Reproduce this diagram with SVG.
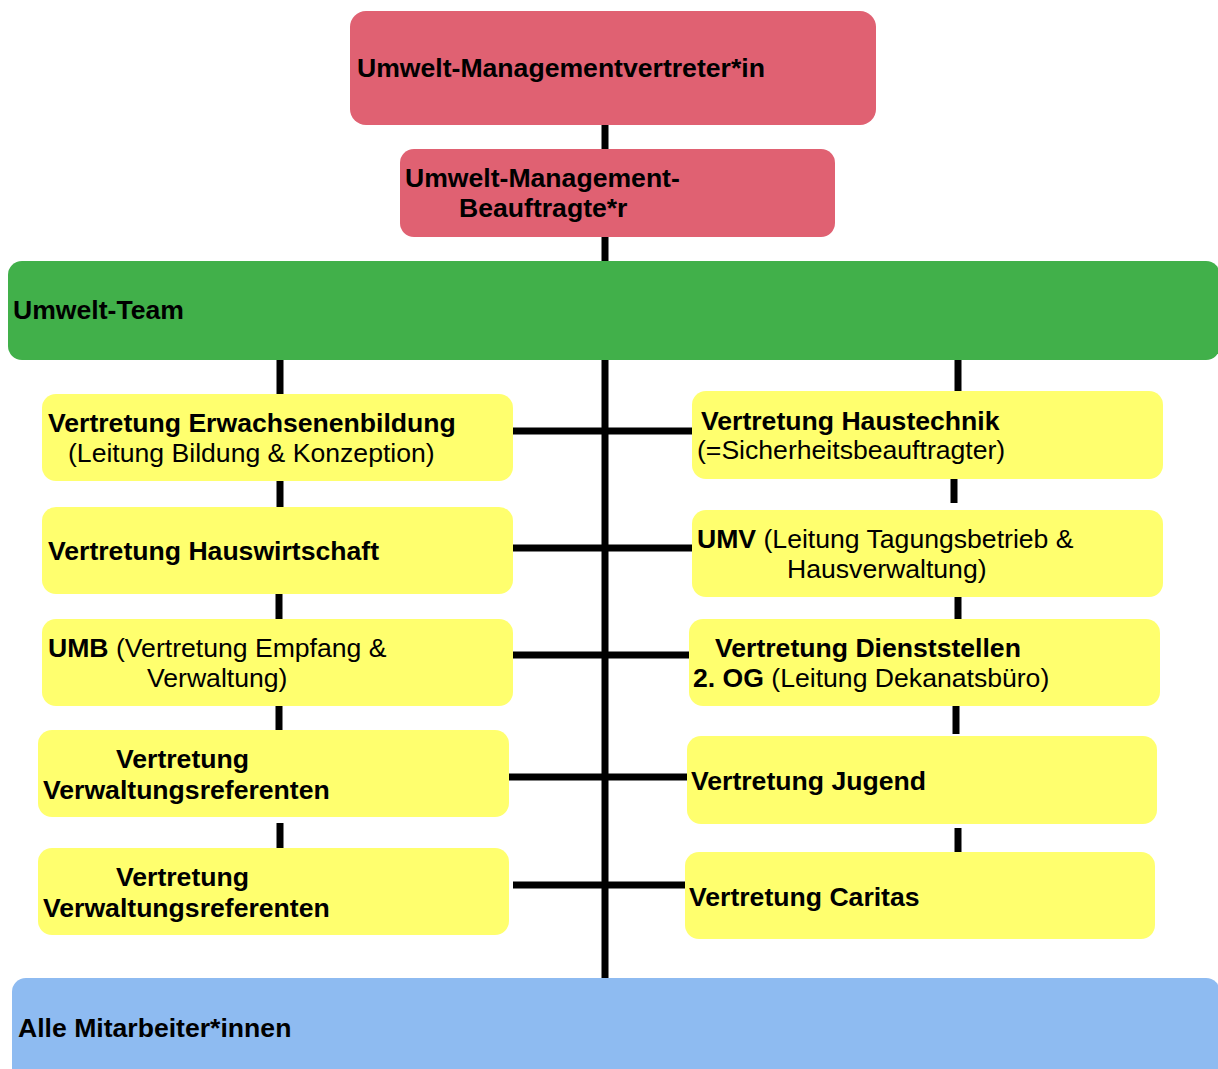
<svg xmlns="http://www.w3.org/2000/svg" width="1218" height="1069" viewBox="0 0 1218 1069">
<style>
.t{font-family:"Liberation Sans",Arial,sans-serif;font-size:26.6px;fill:#000}
.b{font-weight:bold}
.red{fill:#e06172}
.yel{fill:#ffff6e}
.ln{stroke:#000;stroke-width:7;fill:none}
</style>
<rect width="1218" height="1069" fill="#fff"/>
<g id="connectors">
<line class="ln" x1="605" y1="125" x2="605" y2="149"/>
<line class="ln" x1="605" y1="237" x2="605" y2="261"/>
<line class="ln" x1="605" y1="360" x2="605" y2="978"/>
<line class="ln" x1="280" y1="360" x2="280" y2="394"/>
<line class="ln" x1="280" y1="481" x2="280" y2="507"/>
<line class="ln" x1="279" y1="594" x2="279" y2="619"/>
<line class="ln" x1="279" y1="706" x2="279" y2="730"/>
<line class="ln" x1="280" y1="823" x2="280" y2="848"/>
<line class="ln" x1="958" y1="360" x2="958" y2="391"/>
<line class="ln" x1="954" y1="479" x2="954" y2="503"/>
<line class="ln" x1="958" y1="597" x2="958" y2="620"/>
<line class="ln" x1="956" y1="706" x2="956" y2="734"/>
<line class="ln" x1="958" y1="828" x2="958" y2="852"/>
<line class="ln" x1="513" y1="431" x2="692" y2="431"/>
<line class="ln" x1="513" y1="548" x2="692" y2="548"/>
<line class="ln" x1="513" y1="655" x2="690" y2="655"/>
<line class="ln" x1="509" y1="777" x2="688" y2="777"/>
<line class="ln" x1="513" y1="885" x2="690" y2="885"/>
</g>
<g id="umv">
<rect class="red" x="350" y="11" width="526" height="114" rx="16"/>
<text class="t b" x="357" y="77">Umwelt-Managementvertreter*in</text>
</g>
<g id="umb">
<rect class="red" x="400" y="149" width="435" height="88" rx="14"/>
<text class="t b" x="405" y="187">Umwelt-Management-</text>
<text class="t b" x="459" y="217">Beauftragte*r</text>
</g>
<g id="team">
<rect x="8" y="261" width="1212" height="99" rx="14" fill="#41b04a"/>
<text class="t b" x="13" y="319">Umwelt-Team</text>
</g>
<g id="erwachsenenbildung">
<rect class="yel" x="42" y="394" width="471" height="87" rx="14"/>
<text class="t b" x="48" y="432">Vertretung Erwachsenenbildung</text>
<text class="t" x="68" y="462">(Leitung Bildung &amp; Konzeption)</text>
</g>
<g id="hauswirtschaft">
<rect class="yel" x="42" y="507" width="471" height="87" rx="14"/>
<text class="t b" x="48" y="560">Vertretung Hauswirtschaft</text>
</g>
<g id="umb-empfang">
<rect class="yel" x="42" y="619" width="471" height="87" rx="14"/>
<text class="t" x="48" y="657"><tspan class="b">UMB</tspan> (Vertretung Empfang &amp;</text>
<text class="t" x="147" y="687">Verwaltung)</text>
</g>
<g id="verwaltungsreferenten1">
<rect class="yel" x="38" y="730" width="471" height="87" rx="14"/>
<text class="t b" x="116" y="768">Vertretung</text>
<text class="t b" x="43" y="799">Verwaltungsreferenten</text>
</g>
<g id="verwaltungsreferenten2">
<rect class="yel" x="38" y="848" width="471" height="87" rx="14"/>
<text class="t b" x="116" y="886">Vertretung</text>
<text class="t b" x="43" y="917">Verwaltungsreferenten</text>
</g>
<g id="haustechnik">
<rect class="yel" x="692" y="391" width="471" height="88" rx="14"/>
<text class="t b" x="701" y="430">Vertretung Haustechnik</text>
<text class="t" x="697" y="459">(=Sicherheitsbeauftragter)</text>
</g>
<g id="umv-tagung">
<rect class="yel" x="692" y="510" width="471" height="87" rx="14"/>
<text class="t" x="697" y="548"><tspan class="b">UMV</tspan> (Leitung Tagungsbetrieb &amp;</text>
<text class="t" x="787" y="578">Hausverwaltung)</text>
</g>
<g id="dienststellen">
<rect class="yel" x="689" y="619" width="471" height="87" rx="14"/>
<text class="t b" x="715" y="657">Vertretung Dienststellen</text>
<text class="t" x="693" y="687"><tspan class="b">2. OG</tspan> (Leitung Dekanatsbüro)</text>
</g>
<g id="jugend">
<rect class="yel" x="687" y="736" width="470" height="88" rx="14"/>
<text class="t b" x="691" y="790">Vertretung Jugend</text>
</g>
<g id="caritas">
<rect class="yel" x="685" y="852" width="470" height="87" rx="14"/>
<text class="t b" x="689" y="906">Vertretung Caritas</text>
</g>
<g id="mitarbeiter">
<rect x="12" y="978" width="1208" height="110" rx="14" fill="#8ebbf1"/>
<text class="t b" x="18" y="1037">Alle Mitarbeiter*innen</text>
</g>
</svg>
